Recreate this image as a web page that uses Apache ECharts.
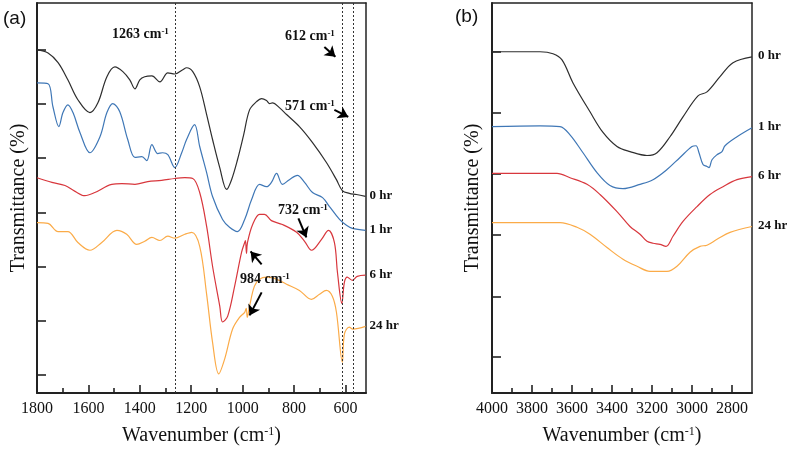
<!DOCTYPE html>
<html><head><meta charset="utf-8">
<script src="https://cdn.jsdelivr.net/npm/echarts@6/dist/echarts.min.js"></script>
<style>html,body{margin:0;padding:0;background:#fff}#c{width:789px;height:451px}</style>
</head><body><div id="c"></div>
<script>
// ---- Panel (a): 1800–520 cm-1, transmittance (a.u., offset) ----
const seriesNames = ['0 hr', '1 hr', '6 hr', '24 hr'];
const a0hr = [[1800,88.0],[1757,87.2],[1718,84.7],[1680,80.3],[1641,75.2],[1594,71.9],[1563,74.4],[1528,81.1],[1497,83.6],[1466,82.4],[1439,80.3],[1419,78.0],[1400,80.3],[1381,81.1],[1353,81.3],[1322,79.8],[1291,82.1],[1264,81.8],[1233,82.9],[1218,83.4],[1194,82.4],[1167,78.5],[1140,71.4],[1117,65.0],[1089,57.8],[1062,52.2],[1043,54.7],[1020,59.8],[996,66.2],[973,72.6],[946,74.7],[926,75.5],[907,75.0],[895,74.2],[884,74.4],[856,73.1],[829,71.4],[779,68.3],[728,64.2],[674,59.1],[635,54.7],[612,51.9],[585,51.2],[557,50.9],[522,50.4]];
const a1hr = [[1800,79.5],[1757,79.3],[1738,73.4],[1715,68.3],[1699,71.9],[1680,73.9],[1660,71.9],[1633,66.8],[1594,61.6],[1555,65.7],[1528,71.9],[1505,74.2],[1478,72.1],[1447,65.0],[1419,60.4],[1392,60.6],[1373,59.6],[1353,63.7],[1330,61.4],[1311,61.6],[1291,61.1],[1264,57.8],[1237,61.6],[1218,65.0],[1187,68.8],[1167,63.2],[1140,56.5],[1117,50.4],[1078,44.5],[1051,42.5],[1020,41.4],[992,44.5],[965,49.6],[934,53.5],[907,52.9],[888,54.0],[868,56.3],[845,53.5],[818,54.7],[787,55.8],[759,54.0],[728,51.4],[689,50.1],[662,47.8],[623,44.5],[596,43.0],[573,42.2],[522,41.7]];
const a6hr = [[1800,55.2],[1742,54.0],[1691,53.2],[1652,51.7],[1614,50.6],[1575,51.4],[1509,53.5],[1470,53.7],[1419,53.5],[1369,54.2],[1315,54.5],[1264,55.0],[1225,55.2],[1194,55.0],[1167,51.4],[1140,42.7],[1117,32.5],[1089,22.3],[1078,18.2],[1058,19.7],[1031,27.4],[1004,36.1],[992,38.6],[989,39.1],[985,35.8],[981,38.6],[961,43.2],[934,45.8],[915,45.8],[888,44.2],[845,43.2],[790,41.2],[759,38.9],[732,36.6],[693,39.4],[666,41.7],[643,38.6],[631,30.9],[614,23.0],[604,28.4],[593,29.7],[573,28.9],[554,29.9],[522,30.2]];
const a24hr = [[1800,43.7],[1757,43.5],[1718,41.4],[1680,41.4],[1641,38.6],[1594,36.6],[1548,38.6],[1489,41.7],[1451,40.7],[1412,38.1],[1381,38.9],[1353,39.9],[1322,39.1],[1291,40.2],[1264,39.7],[1225,40.7],[1198,41.2],[1167,37.6],[1140,25.3],[1117,13.0],[1093,4.9],[1070,8.7],[1039,16.4],[1012,19.4],[992,20.7],[986,21.7],[982,19.4],[973,22.3],[954,27.4],[934,29.2],[907,29.7],[876,29.4],[829,27.9],[779,26.3],[732,24.0],[701,25.3],[674,26.3],[651,24.8],[635,20.7],[612,7.9],[604,15.1],[585,16.9],[571,16.4],[522,17.1]];
// ---- Panel (b): 4000–2700 cm-1 ----
const b0hr = [[4000,87.5],[3760,87.5],[3695,87.0],[3650,85.4],[3595,79.5],[3510,72.1],[3445,66.8],[3375,63.2],[3310,61.9],[3225,60.9],[3175,61.6],[3110,65.7],[3045,70.8],[2970,76.2],[2925,77.2],[2860,81.1],[2795,84.7],[2700,86.2]];
const b1hr = [[4000,68.3],[3760,68.5],[3660,68.3],[3610,66.2],[3545,61.6],[3475,56.5],[3410,53.2],[3345,52.4],[3260,53.5],[3195,54.7],[3125,57.3],[3060,60.4],[3000,63.2],[2980,63.4],[2965,61.6],[2945,58.6],[2925,58.1],[2915,57.8],[2900,59.8],[2875,61.1],[2850,61.9],[2835,63.4],[2775,65.7],[2700,68.0]];
const b6hr = [[4000,56.3],[3675,56.3],[3610,55.2],[3525,53.5],[3460,50.9],[3375,46.5],[3310,42.7],[3260,40.7],[3225,38.9],[3195,38.4],[3160,38.1],[3130,37.6],[3095,40.2],[3045,44.0],[2975,47.8],[2910,50.9],[2845,52.9],[2775,54.7],[2700,55.5]];
const b24hr = [[4000,43.7],[3660,43.7],[3575,42.5],[3510,40.7],[3425,37.3],[3345,34.3],[3275,32.5],[3210,31.2],[3125,31.2],[3075,32.5],[3010,36.1],[2960,37.6],[2925,37.9],[2875,39.4],[2810,41.2],[2700,42.7]];
// ---- axes / ticks / annotations ----
const aXMajor = [1800,1600,1400,1200,1000,800,600];
const aXMinor = [1700,1500,1300,1100,900,700];
const bXMajor = [4000,3800,3600,3400,3200,3000,2800];
const bXMinor = [3900,3700,3500,3300,3100,2900];
const aYTicks = [4.6,18.5,32.4,46.3,60.2,74.1,88.0];
const bYTicks = [9.2,24.8,40.5,56.2,71.8,87.5];
const markWn = [1263, 612, 571];
const arrows = [ // [fromWn, fromT, toWn, toT]
  [682,88.7,639,86.2],
  [643,72.6,589,70.8],
  [783,44.8,752,39.9],
  [926,33.0,969,36.3],
  [926,25.8,973,19.9]
];
const colors = ['#2e2e2e','#3f77b6','#d8373d','#fbab48'];

const SERIF = "'Liberation Serif','Times New Roman',serif";
const axisCol = '#222';
function xAxes(grid, min, max, majors, minors) {
  const nameRich = {
    a:{fontFamily:SERIF,fontSize:20,color:'#111'},
    s:{fontFamily:SERIF,fontSize:12,color:'#111',verticalAlign:'top',padding:[0,0,6,0]}
  };
  return [
    {type:'value',gridIndex:grid,min:min,max:max,inverse:true,position:'bottom',
     axisLine:{show:true,lineStyle:{color:axisCol,width:2}},
     axisTick:{show:true,inside:true,length:8,customValues:majors,lineStyle:{color:axisCol,width:1.6}},
     axisLabel:{show:true,customValues:majors,formatter:v=>String(v),fontFamily:SERIF,fontSize:16,color:'#111',margin:8},
     splitLine:{show:false},
     name:'{a|Wavenumber (cm}{s|-1}{a|)}',nameLocation:'middle',nameGap:33,
     nameTextStyle:{rich:nameRich}},
    {type:'value',gridIndex:grid,min:min,max:max,inverse:true,position:'bottom',
     axisLine:{show:false},
     axisTick:{show:true,inside:true,length:5,customValues:minors,lineStyle:{color:axisCol,width:1.6}},
     axisLabel:{show:false},splitLine:{show:false}},
    {type:'value',gridIndex:grid,min:min,max:max,inverse:true,position:'top',
     axisLine:{show:true,lineStyle:{color:axisCol,width:1.5}},
     axisTick:{show:false},axisLabel:{show:false},splitLine:{show:false}}
  ];
}
function yAxes(grid, ticks, gap) {
  return [
    {type:'value',gridIndex:grid,min:0,max:100,position:'left',
     axisLine:{show:true,lineStyle:{color:axisCol,width:2}},
     axisTick:{show:true,inside:true,length:9,customValues:ticks,lineStyle:{color:axisCol,width:1.6}},
     axisLabel:{show:false},splitLine:{show:false},
     name:'Transmittance (%)',nameLocation:'middle',nameGap:gap,
     nameTextStyle:{fontFamily:SERIF,fontSize:20,color:'#111'}},
    {type:'value',gridIndex:grid,min:0,max:100,position:'right',
     axisLine:{show:true,lineStyle:{color:axisCol,width:1.5}},
     axisTick:{show:false},axisLabel:{show:false},splitLine:{show:false}}
  ];
}
function line(name, data, idx, xi, yi, extra) {
  return Object.assign({
    name:name,type:'line',xAxisIndex:xi,yAxisIndex:yi,data:data,
    symbol:'none',smooth:0.35,
    lineStyle:{color:colors[idx],width:1.2},itemStyle:{color:colors[idx]},
    z:3
  }, extra||{});
}
const chart = echarts.init(document.getElementById('c'), null, {renderer:'canvas'});
const annRich = {
  b:{fontFamily:SERIF,fontWeight:'bold',fontSize:14,fill:'#111'},
  s:{fontFamily:SERIF,fontWeight:'bold',fontSize:9,fill:'#111',verticalAlign:'top'}
};
function ann(text, x, y) {
  return {type:'text',left:x,top:y,z:10,style:{text:'{b|'+text+'}{s|-1}',rich:annRich}};
}
const allSeries = [a0hr,a1hr,a6hr,a24hr,b0hr,b1hr,b6hr,b24hr];
const option = {
  animation:false,
  backgroundColor:'#fff',
  grid:[{left:37,top:3,width:329,height:391},{left:492,top:3,width:260,height:391}],
  xAxis:[].concat(xAxes(0,520,1800,aXMajor,aXMinor), xAxes(1,2700,4000,bXMajor,bXMinor)),
  yAxis:[].concat(yAxes(0,aYTicks,8), yAxes(1,bYTicks,9)),
  series:[
    line(seriesNames[0], a0hr, 0, 0, 0, {markLine:{silent:true,symbol:'none',animation:false,
      lineStyle:{type:[2,2],color:'#333',width:1},label:{show:false},
      data:markWn.map(v=>({xAxis:v}))}}),
    line(seriesNames[1], a1hr, 1, 0, 0, {markLine:{silent:true,symbol:['none','arrow'],symbolSize:10,animation:false,
      lineStyle:{type:'solid',color:'#000',width:2},label:{show:false},
      data:arrows.map(a=>[{coord:[a[0],a[1]]},{coord:[a[2],a[3]]}])}}),
    line(seriesNames[2], a6hr, 2, 0, 0),
    line(seriesNames[3], a24hr, 3, 0, 0),
    line(seriesNames[0], b0hr, 0, 3, 2),
    line(seriesNames[1], b1hr, 1, 3, 2),
    line(seriesNames[2], b6hr, 2, 3, 2),
    line(seriesNames[3], b24hr, 3, 3, 2)
  ],
  graphic:[
    {type:'text',left:3,top:9,style:{text:'(a)',fontFamily:"'Liberation Sans',Arial,sans-serif",fontSize:19,fill:'#111'}},
    {type:'text',left:455,top:7,style:{text:'(b)',fontFamily:"'Liberation Sans',Arial,sans-serif",fontSize:19,fill:'#111'}},
    ann('1263 cm',112,27),
    ann('612 cm',285,29),
    ann('571 cm',285,99),
    ann('732 cm',278,203),
    ann('984 cm',240,272)
  ]
};
chart.setOption(option);
// series name labels at the right end of each curve, placed through the chart's scales
const endLabels = allSeries.map((d, i) => {
  const last = d[d.length - 1];
  const p = chart.convertToPixel({seriesIndex:i}, last);
  const dx = i < 4 ? 4 : 6;
  return {type:'text',x:p[0]+dx,y:p[1]-1,z:10,
    style:{text:seriesNames[i % 4],fontFamily:SERIF,fontWeight:'bold',fontSize:13,fill:'#111',
      textAlign:'left',textVerticalAlign:'middle'}};
});
chart.setOption({graphic:option.graphic.concat(endLabels)});
</script>
</body></html>
